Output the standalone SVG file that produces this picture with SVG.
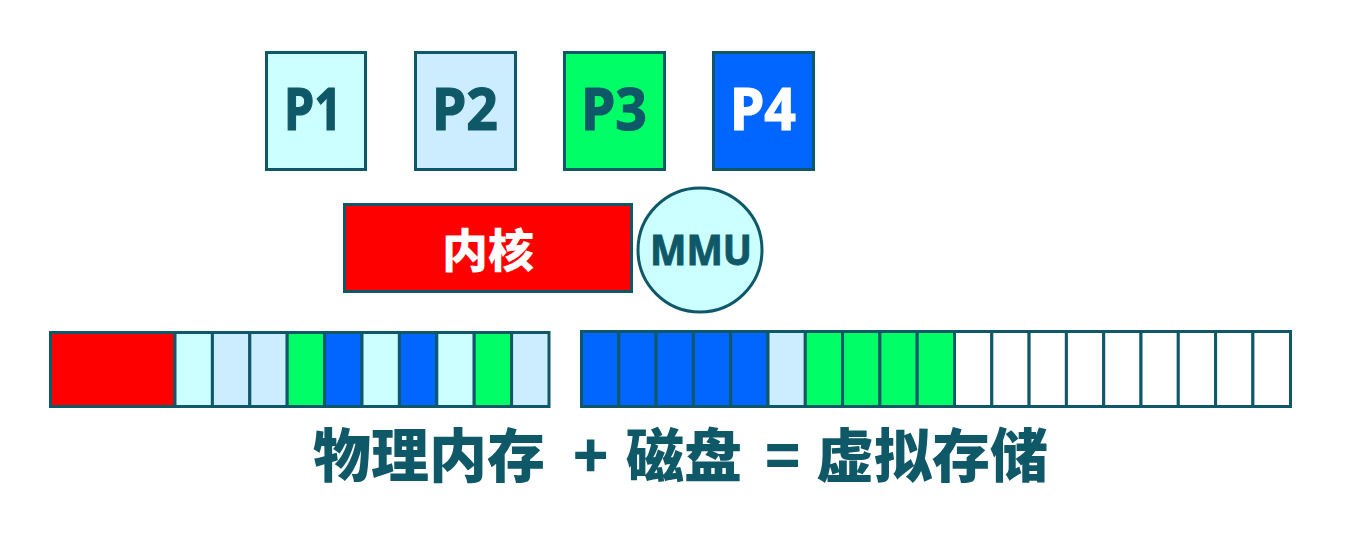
<svg xmlns="http://www.w3.org/2000/svg" width="1352" height="535" viewBox="0 0 1352 535">
<style>
.bx{stroke:#0F5868;stroke-width:3}
.c{stroke:#0F5868;stroke-width:3}
.r{fill:#FF0000}.cy{fill:#CCFFFF}.lb{fill:#CCECFF}.g{fill:#00FF66}.b{fill:#0066FF}.w{fill:#FFFFFF}
.pt{font-family:"Noto Sans","Liberation Sans",sans-serif;font-weight:bold;font-size:59px;fill:#0F5868;stroke:#0F5868;stroke-width:1.2;text-anchor:middle}
.cjk{font-family:"Noto Sans CJK SC","Noto Sans",sans-serif;font-weight:900}
</style>
<rect width="1352" height="535" fill="#FFFFFF"/>
<g id="p1"><rect class="bx cy" x="266.5" y="52.5" width="99" height="117"/><text class="pt" x="313" y="130" textLength="58" lengthAdjust="spacingAndGlyphs">P1</text></g>
<g id="p2"><rect class="bx lb" x="415.5" y="52.5" width="100" height="117"/><text class="pt" x="465" y="130" textLength="66" lengthAdjust="spacingAndGlyphs">P2</text></g>
<g id="p3"><rect class="bx g" x="564.5" y="52.5" width="100" height="117"/><text class="pt" x="614" y="130" textLength="66" lengthAdjust="spacingAndGlyphs">P3</text></g>
<g id="p4"><rect class="bx b" x="713.5" y="52.5" width="100" height="117"/><text class="pt" x="763" y="130" textLength="66" lengthAdjust="spacingAndGlyphs" style="fill:#FFFFFF;stroke:#FFFFFF">P4</text></g>
<g id="kernel"><rect class="bx r" x="344.5" y="204.5" width="287" height="87"/><text class="cjk" x="488" y="267" font-size="46" fill="#FFFFFF" text-anchor="middle">内核</text></g>
<g id="mmu"><circle class="bx cy" cx="700" cy="250" r="62"/><text x="701" y="265" font-family="Noto Sans,Liberation Sans,sans-serif" font-weight="bold" font-size="42" fill="#0F5868" stroke="#0F5868" stroke-width="1" text-anchor="middle" textLength="102" lengthAdjust="spacingAndGlyphs">MMU</text></g>
<g id="memory">
<rect class="c r" x="50.5" y="332.5" width="124.5" height="74"/>
<rect class="c cy" x="175" y="332.5" width="37.4" height="74"/>
<rect class="c lb" x="212.4" y="332.5" width="37.4" height="74"/>
<rect class="c lb" x="249.8" y="332.5" width="37.4" height="74"/>
<rect class="c g" x="287.2" y="332.5" width="37.4" height="74"/>
<rect class="c b" x="324.6" y="332.5" width="37.4" height="74"/>
<rect class="c cy" x="362" y="332.5" width="37.4" height="74"/>
<rect class="c b" x="399.4" y="332.5" width="37.4" height="74"/>
<rect class="c cy" x="436.8" y="332.5" width="37.4" height="74"/>
<rect class="c g" x="474.2" y="332.5" width="37.4" height="74"/>
<rect class="c lb" x="511.6" y="332.5" width="37.4" height="74"/>
</g>
<g id="disk">
<rect class="c b" x="581.5" y="331.5" width="37.3" height="75"/>
<rect class="c b" x="618.8" y="331.5" width="37.3" height="75"/>
<rect class="c b" x="656.1" y="331.5" width="37.3" height="75"/>
<rect class="c b" x="693.4" y="331.5" width="37.3" height="75"/>
<rect class="c b" x="730.7" y="331.5" width="37.3" height="75"/>
<rect class="c lb" x="768" y="331.5" width="37.3" height="75"/>
<rect class="c g" x="805.3" y="331.5" width="37.3" height="75"/>
<rect class="c g" x="842.6" y="331.5" width="37.3" height="75"/>
<rect class="c g" x="879.9" y="331.5" width="37.3" height="75"/>
<rect class="c g" x="917.2" y="331.5" width="37.3" height="75"/>
<rect class="c w" x="954.5" y="331.5" width="37.3" height="75"/>
<rect class="c w" x="991.8" y="331.5" width="37.3" height="75"/>
<rect class="c w" x="1029.1" y="331.5" width="37.3" height="75"/>
<rect class="c w" x="1066.4" y="331.5" width="37.3" height="75"/>
<rect class="c w" x="1103.7" y="331.5" width="37.3" height="75"/>
<rect class="c w" x="1141" y="331.5" width="37.3" height="75"/>
<rect class="c w" x="1178.3" y="331.5" width="37.3" height="75"/>
<rect class="c w" x="1215.6" y="331.5" width="37.3" height="75"/>
<rect class="c w" x="1252.9" y="331.5" width="37.6" height="75"/>
</g>
<g id="connectors"></g>
<g id="caption">
<text class="cjk" y="477" font-size="58" fill="#0F5868"><tspan x="313">物理内存</tspan><tspan x="573">+</tspan><tspan x="626">磁盘</tspan><tspan x="765">=</tspan><tspan x="816">虚拟存储</tspan></text>
</g>
</svg>
